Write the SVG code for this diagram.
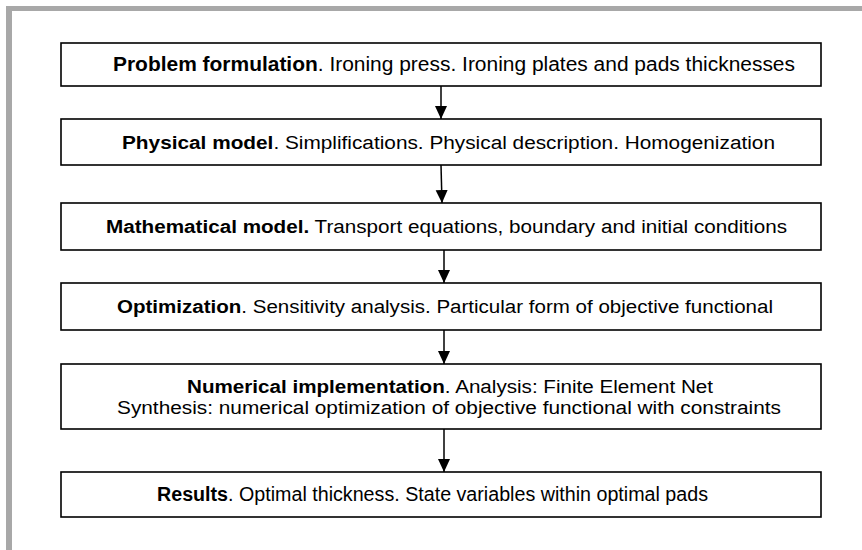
<svg xmlns="http://www.w3.org/2000/svg" width="862" height="550" viewBox="0 0 862 550">
  <style>
    .frame { fill: #a8a8a8; }
    .box { fill: #ffffff; stroke: #000000; stroke-width: 1.6; }
    .t { font-family: "Liberation Sans", Arial, sans-serif; font-size: 18px; fill: #000000; }
    .n { font-family: "Liberation Sans Narrow", "Liberation Sans", Arial, sans-serif; font-size: 19.5px; fill: #000000; }
    .b { font-weight: bold; }
    .conn { stroke: #000000; stroke-width: 1.5; fill: none; }
  </style>
  <defs>
    <marker id="arrow" markerUnits="userSpaceOnUse" markerWidth="14" markerHeight="14" viewBox="0 0 14 14" refX="13" refY="7" orient="auto">
      <path d="M0,1 L13,7 L0,13 Z" fill="#000000"/>
    </marker>
  </defs>
  <rect class="frame" x="6" y="6" width="856" height="5"/>
  <rect class="frame" x="6" y="6" width="6" height="544"/>

  <g id="connectors">
    <line class="conn" x1="441" y1="86" x2="441" y2="119" marker-end="url(#arrow)"/>
    <line class="conn" x1="441" y1="165" x2="442" y2="203" marker-end="url(#arrow)"/>
    <line class="conn" x1="444" y1="250" x2="444" y2="283" marker-end="url(#arrow)"/>
    <line class="conn" x1="444" y1="330" x2="444" y2="364" marker-end="url(#arrow)"/>
    <line class="conn" x1="444" y1="429" x2="444" y2="472" marker-end="url(#arrow)"/>
  </g>

  <g id="problem">
    <rect class="box" x="61" y="43" width="760" height="43"/>
    <text class="n" x="113" y="71" textLength="682" lengthAdjust="spacingAndGlyphs"><tspan class="b">Problem formulation</tspan>.  Ironing press. Ironing plates and pads thicknesses</text>
  </g>
  <g id="physical">
    <rect class="box" x="61" y="119" width="760" height="46"/>
    <text class="t" x="122" y="148.5" textLength="653" lengthAdjust="spacingAndGlyphs"><tspan class="b">Physical model</tspan>. Simplifications. Physical description. Homogenization</text>
  </g>
  <g id="mathematical">
    <rect class="box" x="61" y="203" width="760" height="47"/>
    <text class="t" x="106" y="233" textLength="681" lengthAdjust="spacingAndGlyphs"><tspan class="b">Mathematical model.</tspan> Transport equations, boundary and initial conditions</text>
  </g>
  <g id="optimization">
    <rect class="box" x="61" y="283" width="760" height="47"/>
    <text class="t" x="117" y="313" textLength="656" lengthAdjust="spacingAndGlyphs"><tspan class="b">Optimization</tspan>. Sensitivity analysis. Particular form of objective functional</text>
  </g>
  <g id="numerical">
    <rect class="box" x="61" y="364" width="760" height="65"/>
    <text class="t" x="187" y="392.5" textLength="526" lengthAdjust="spacingAndGlyphs"><tspan class="b">Numerical implementation</tspan>.  Analysis: Finite Element Net</text>
    <text class="t" x="117" y="413.5" textLength="664" lengthAdjust="spacingAndGlyphs">Synthesis: numerical optimization of objective functional with constraints</text>
  </g>
  <g id="results">
    <rect class="box" x="61" y="472" width="760" height="45"/>
    <text class="n" x="157" y="501" textLength="551" lengthAdjust="spacingAndGlyphs"><tspan class="b">Results</tspan>. Optimal thickness. State  variables within optimal pads</text>
  </g>
</svg>
